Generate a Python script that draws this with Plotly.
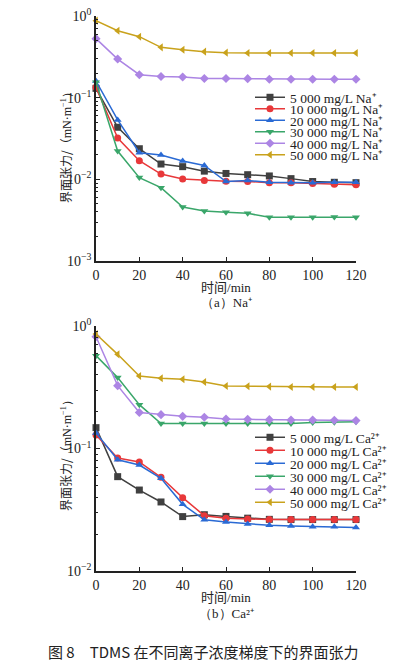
import plotly.graph_objects as go

time_min = [0, 10, 20, 30, 40, 50, 60, 70, 80, 90, 100, 110, 120]

na_labels = ["5 000 mg/L Na⁺", "10 000 mg/L Na⁺", "20 000 mg/L Na⁺",
             "30 000 mg/L Na⁺", "40 000 mg/L Na⁺", "50 000 mg/L Na⁺"]
ca_labels = ["5 000 mg/L Ca²⁺", "10 000 mg/L Ca²⁺", "20 000 mg/L Ca²⁺",
             "30 000 mg/L Ca²⁺", "40 000 mg/L Ca²⁺", "50 000 mg/L Ca²⁺"]

na_5000 = [0.130, 0.0434, 0.0237, 0.0154, 0.0143, 0.0126, 0.0118, 0.0114, 0.0110, 0.0102, 0.0094, 0.0092, 0.0091]
na_10000 = [0.134, 0.0320, 0.0169, 0.0116, 0.0101, 0.0097, 0.0095, 0.0094, 0.0091, 0.0091, 0.0089, 0.0087, 0.0086]
na_20000 = [0.160, 0.0533, 0.0212, 0.0199, 0.0168, 0.0148, 0.0094, 0.0097, 0.0092, 0.0091, 0.0091, 0.0092, 0.0092]
na_30000 = [0.154, 0.0222, 0.0105, 0.0079, 0.00458, 0.0041, 0.00394, 0.00383, 0.00343, 0.00343, 0.00343, 0.00345, 0.00343]
na_40000 = [0.528, 0.297, 0.191, 0.182, 0.179, 0.172, 0.172, 0.171, 0.168, 0.168, 0.168, 0.168, 0.168]
na_50000 = [0.877, 0.660, 0.558, 0.413, 0.387, 0.366, 0.356, 0.352, 0.352, 0.352, 0.352, 0.352, 0.352]

ca_5000 = [0.148, 0.0589, 0.0458, 0.0366, 0.0278, 0.0288, 0.0279, 0.0270, 0.0264, 0.0263, 0.0263, 0.0263, 0.0263]
ca_10000 = [0.129, 0.0836, 0.0776, 0.0582, 0.0397, 0.0283, 0.0270, 0.0266, 0.0263, 0.0263, 0.0263, 0.0263, 0.0263]
ca_20000 = [0.134, 0.0810, 0.0733, 0.0571, 0.0350, 0.0262, 0.0251, 0.0242, 0.0236, 0.0233, 0.0230, 0.0230, 0.0227]
ca_30000 = [0.573, 0.379, 0.228, 0.160, 0.160, 0.160, 0.160, 0.160, 0.160, 0.160, 0.163, 0.164, 0.165]
ca_40000 = [0.818, 0.326, 0.197, 0.189, 0.183, 0.180, 0.174, 0.173, 0.172, 0.171, 0.171, 0.170, 0.169]
ca_50000 = [0.860, 0.587, 0.391, 0.374, 0.367, 0.349, 0.324, 0.322, 0.320, 0.318, 0.318, 0.318, 0.318]

colors = ["#404040", "#e8383a", "#2a6ad4", "#3aa66a", "#ac85e4", "#c9a21c"]
symbols = ["square", "circle", "triangle-up", "triangle-down", "diamond", "triangle-left"]

na_series = [na_5000, na_10000, na_20000, na_30000, na_40000, na_50000]
ca_series = [ca_5000, ca_10000, ca_20000, ca_30000, ca_40000, ca_50000]

W, H = 414, 661
def px_x(p):
    return p / W
def px_y(p):
    return 1 - p / H

fig = go.Figure()

SERIF = "Liberation Serif, Times New Roman, serif"
CJK = "Noto Sans CJK SC"

top_leg_y = [97.5, 109, 120.5, 132, 143.5, 155]
bot_leg_y = [437.5, 450.5, 463.5, 476.5, 489.5, 502.5]
leg_x = 250

for i, (vals, lab) in enumerate(zip(na_series, na_labels)):
    lname = "legend" if i == 0 else f"legend{i+1}"
    fig.add_trace(go.Scatter(
        x=time_min, y=vals, name=lab, mode="lines+markers",
        line=dict(color=colors[i], width=1.5),
        marker=dict(symbol=symbols[i], size=7, color=colors[i]),
        xaxis="x", yaxis="y", legend=lname, cliponaxis=False))

for i, (vals, lab) in enumerate(zip(ca_series, ca_labels)):
    lname = f"legend{i+7}"
    fig.add_trace(go.Scatter(
        x=time_min, y=vals, name=lab, mode="lines+markers",
        line=dict(color=colors[i], width=1.5),
        marker=dict(symbol=symbols[i], size=7, color=colors[i]),
        xaxis="x2", yaxis="y2", legend=lname, cliponaxis=False))

legends = {}
for i in range(12):
    key = "legend" if i == 0 else f"legend{i+1}"
    yy = top_leg_y[i] if i < 6 else bot_leg_y[i - 6]
    legends[key] = dict(
        x=px_x(leg_x), y=px_y(yy), xanchor="left", yanchor="middle",
        bgcolor="rgba(0,0,0,0)", borderwidth=0,
        font=dict(family=SERIF, size=13.5, color="#222"),
        itemwidth=30, tracegroupgap=0)

xdom = [px_x(96), px_x(356)]
axis_common = dict(
    showline=True, linecolor="#222", linewidth=1.5, mirror=False, automargin=False,
    showgrid=False, zeroline=False, ticks="inside", ticklen=4, tickwidth=1,
    ticklabeloverflow="allow",
    tickcolor="#222", tickfont=dict(family=SERIF, size=14, color="#222"))

fig.update_layout(
    width=W, height=H, margin=dict(l=0, r=0, t=0, b=0, autoexpand=False),
    paper_bgcolor="white", plot_bgcolor="white", showlegend=True,
    xaxis=dict(domain=xdom, range=[0, 120], anchor="y",
               tickvals=[0, 20, 40, 60, 80, 100, 120], **axis_common),
    yaxis=dict(domain=[px_y(261), px_y(16)], type="log", range=[-3, 0], anchor="x",
               tickvals=[0.001, 0.01, 0.1, 1],
               ticktext=["10<sup>−3</sup>", "10<sup>−2</sup>", "10<sup>−1</sup>", "10<sup>0</sup>"],
               minor=dict(ticks="inside", ticklen=2.5, tickcolor="#222",
                          tickvals=[m * 10 ** e for e in (-3, -2, -1) for m in range(2, 10)]),
               **axis_common),
    xaxis2=dict(domain=xdom, range=[0, 120], anchor="y2",
                tickvals=[0, 20, 40, 60, 80, 100, 120], **axis_common),
    yaxis2=dict(domain=[px_y(571), px_y(326)], type="log", range=[-2, 0], anchor="x2",
                tickvals=[0.01, 0.1, 1],
                ticktext=["10<sup>−2</sup>", "10<sup>−1</sup>", "10<sup>0</sup>"],
                minor=dict(ticks="inside", ticklen=2.5, tickcolor="#222",
                           tickvals=[m * 10 ** e for e in (-2, -1) for m in range(2, 10)]),
                **axis_common),
    **legends,
)

def ann(text, x, y, size=13, family=SERIF, angle=0):
    fig.add_annotation(text=text, x=px_x(x), y=px_y(y), xref="paper", yref="paper",
                       showarrow=False, textangle=angle, xanchor="center", yanchor="middle",
                       font=dict(family=family, size=size, color="#222"))

ytitle = "<span style='font-family:Noto Sans CJK SC'>界面张力/（</span>mN·m<sup>−1</sup>）"
ann(ytitle, 65, 145, size=12, angle=-90)
ann(ytitle, 65, 453, size=12, angle=-90)
ann("<span style='font-family:Noto Sans CJK SC'>时间</span>/min", 226, 286, size=13)
ann("（a）Na⁺", 226, 302, size=13)
ann("<span style='font-family:Noto Sans CJK SC'>时间</span>/min", 226, 596, size=13)
ann("（b）Ca²⁺", 226, 613, size=13)
ann("图 8　TDMS 在不同离子浓度梯度下的界面张力", 203, 651, size=15, family=CJK)

fig.write_html("out.html", config={"displayModeBar": False},
               post_script="document.body.style.margin='0';document.body.style.overflow='hidden';")
